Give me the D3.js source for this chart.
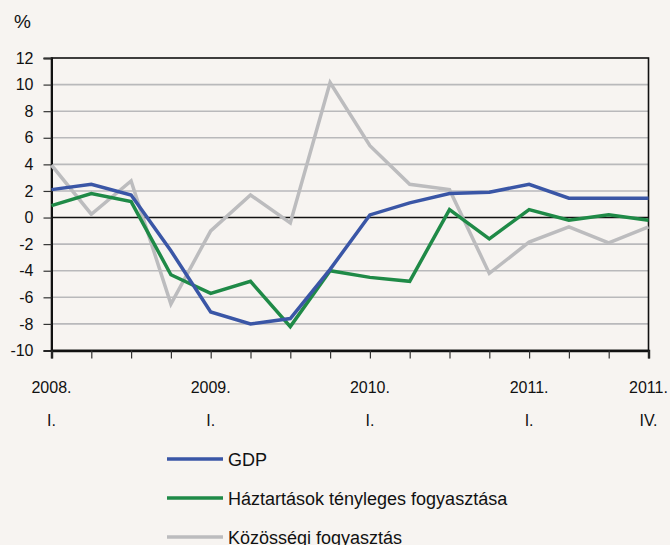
<!DOCTYPE html>
<html>
<head>
<meta charset="utf-8">
<script src="https://cdn.jsdelivr.net/npm/d3@7"></script>
<style>
  body { margin: 0; background: #f7f4f1; }
  svg { display: block; font-family: "Liberation Sans Narrow", "Liberation Sans", Arial, sans-serif; }
</style>
</head>
<body>
<div id="chart"></div>
<script>
// quarters 2008 Q1 .. 2011 Q4
var quarters = ['2008Q1','2008Q2','2008Q3','2008Q4','2009Q1','2009Q2','2009Q3','2009Q4',
                '2010Q1','2010Q2','2010Q3','2010Q4','2011Q1','2011Q2','2011Q3','2011Q4'];
var gdp = [2.1, 2.5, 1.7, -2.5, -7.1, -8.0, -7.6, -3.9, 0.2, 1.1, 1.8, 1.9, 2.5, 1.45, 1.45, 1.45];
var haztartas = [0.9, 1.8, 1.2, -4.3, -5.7, -4.8, -8.2, -4.0, -4.5, -4.8, 0.6, -1.6, 0.6, -0.2, 0.2, -0.2];
var kozossegi = [3.95, 0.25, 2.75, -6.5, -1.0, 1.7, -0.4, 10.15, 5.4, 2.5, 2.1, -4.2, -1.85, -0.7, -1.9, -0.7];
var yTicks = [-10, -8, -6, -4, -2, 0, 2, 4, 6, 8, 10, 12];
var xLabels = {'2008Q1': ['2008.', 'I.'], '2009Q1': ['2009.', 'I.'], '2010Q1': ['2010.', 'I.'],
               '2011Q1': ['2011.', 'I.'], '2011Q4': ['2011.', 'IV.']};

var series = [
    {name: 'GDP', values: gdp, color: '#3a56a6'},
    {name: 'Háztartások tényleges fogyasztása', values: haztartas, color: '#1f8a47'},
    {name: 'Közösségi fogyasztás', values: kozossegi, color: '#bcbcbe'}
];

(function(){

var W = 670, H = 545;
var pl = 51.5, pr = 648.5, pt = 58, pb = 350.5;

var svg = d3.select('#chart').append('svg')
    .attr('width', W).attr('height', H);

svg.append('rect').attr('width', W).attr('height', H).attr('fill', '#f7f4f1');

var x = d3.scalePoint().domain(quarters).range([pl, pr]);
var y = d3.scaleLinear().domain([-10, 12]).range([pb, pt]);

// grid
svg.append('g').selectAll('line')
    .data(yTicks.filter(d => d !== 0 && d !== 12 && d !== -10))
    .enter().append('line')
    .attr('x1', pl).attr('x2', pr)
    .attr('y1', d => y(d)).attr('y2', d => y(d))
    .attr('stroke', '#b9b9bb').attr('stroke-width', 1.6);

// frame
svg.append('rect')
    .attr('x', pl).attr('y', pt)
    .attr('width', pr - pl).attr('height', pb - pt)
    .attr('fill', 'none').attr('stroke', '#111').attr('stroke-width', 1.6);

// zero line
svg.append('line')
    .attr('x1', pl).attr('x2', pr)
    .attr('y1', y(0)).attr('y2', y(0))
    .attr('stroke', '#111').attr('stroke-width', 1.4);

// y axis (plain hyphen for negatives, like the original)
var yAxis = d3.axisLeft(y).tickValues(yTicks).tickSize(8).tickPadding(10)
    .tickFormat(d => String(d));
var gy = svg.append('g').attr('transform', `translate(${pl},0)`).call(yAxis);
gy.select('.domain').attr('stroke', '#111').attr('stroke-width', 2);
gy.selectAll('.tick line').attr('stroke', '#333').attr('stroke-width', 1.2);
gy.selectAll('.tick text').attr('font-size', 16).attr('fill', '#111')
    .attr('font-family', '"Liberation Sans Narrow", "Liberation Sans", Arial, sans-serif');

// x axis
var xAxis = d3.axisBottom(x).tickSize(8).tickFormat('');
var gx = svg.append('g').attr('transform', `translate(0,${pb})`).call(xAxis);
gx.select('.domain').attr('stroke', '#111').attr('stroke-width', 2.4);
gx.selectAll('.tick line').attr('stroke', '#333').attr('stroke-width', 1.2);

var lbl = svg.append('g').selectAll('g')
    .data(quarters.filter(q => xLabels[q]))
    .enter().append('g');
lbl.append('text')
    .attr('x', q => x(q)).attr('y', 393)
    .attr('text-anchor', 'middle').attr('font-size', 16).attr('fill', '#111')
    .text(q => xLabels[q][0]);
lbl.append('text')
    .attr('x', q => x(q)).attr('y', 426)
    .attr('text-anchor', 'middle').attr('font-size', 16).attr('fill', '#111')
    .text(q => xLabels[q][1]);

// % label
svg.append('text').attr('x', 14).attr('y', 28)
    .attr('font-size', 19).attr('fill', '#111').text('%');

// lines
var line = d3.line().x((d, i) => x(quarters[i])).y(d => y(d));
svg.append('g').selectAll('path')
    .data(series.slice().reverse())
    .enter().append('path')
    .attr('d', d => line(d.values))
    .attr('fill', 'none')
    .attr('stroke', d => d.color)
    .attr('stroke-width', 3.5)
    .attr('stroke-linejoin', 'miter');

// legend
var leg = svg.append('g').selectAll('g')
    .data(series)
    .enter().append('g')
    .attr('transform', (d, i) => `translate(167,${459 + i * 39})`);
leg.append('line')
    .attr('x1', 0).attr('x2', 56)
    .attr('stroke', d => d.color).attr('stroke-width', 3.5);
leg.append('text')
    .attr('x', 61).attr('y', 7)
    .attr('font-size', 18).attr('fill', '#111')
    .text(d => d.name);

})();
</script>
</body>
</html>
